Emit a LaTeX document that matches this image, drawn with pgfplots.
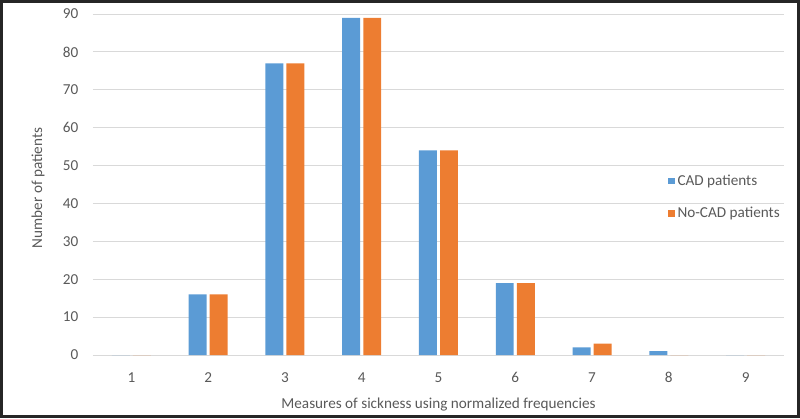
\documentclass[border=0pt]{standalone}
\usepackage{pgfplots}
\pgfplotsset{compat=1.18}
\usepackage{fontspec}
\setmainfont{Carlito}
\definecolor{cadblue}{HTML}{5B9BD5}
\definecolor{cadorange}{HTML}{ED7D31}
\definecolor{txtgray}{HTML}{595959}
\definecolor{gridgray}{HTML}{D9D9D9}
\newcommand{\chartfont}{\fontsize{11.4}{13}\selectfont}

\begin{document}
\begin{tikzpicture}
\begin{axis}[
  at={(0pt,0pt)}, anchor=south west,
  scale only axis,
  width=518.25pt, height=255.75pt,
  xmin=0.5, xmax=9.5, ymin=0, ymax=90,
  ybar, bar width=0.234,
  xtick={1,...,9}, ytick={0,10,...,90},
  ymajorgrids, grid style={gridgray, line width=0.75pt},
  axis line style={draw=none},
  major tick length=0pt,
  tick label style={font=\chartfont, text=txtgray},
  /pgf/number format/assume math mode=true,
  xticklabel style={yshift=-9.5pt},
  yticklabel style={xshift=-7.5pt},
  xlabel={Measures of sickness using normalized frequencies},
  ylabel={Number of patients},
  label style={font=\chartfont, text=txtgray},
  xlabel style={at={([yshift=-37pt]axis description cs:0.5,0)}, anchor=center},
  ylabel style={at={([xshift=-41.25pt]axis description cs:0,0.49)}, anchor=center, rotate=0},
  legend style={at={(rel axis cs:0.832,0.537)}, anchor=north west, draw=none, fill=none,
    font=\chartfont, text=txtgray, row sep=11pt, inner sep=0pt},
  legend cell align=left,
  legend image code/.code={\fill[#1] (0pt,-2.5pt) rectangle (5pt,2.5pt);},
]
\addplot[fill=cadblue, draw=none, bar shift=-0.137] coordinates {
  (1,0) (2,16) (3,77) (4,89) (5,54) (6,19) (7,2) (8,1) (9,0)
};
\addplot[fill=cadorange, draw=none, bar shift=0.137] coordinates {
  (1,0) (2,16) (3,77) (4,89) (5,54) (6,19) (7,3) (8,0) (9,0)
};
\legend{CAD patients, No-CAD patients}
\end{axis}
\draw[line width=2.25pt, black!85] (-68.625pt,-46.125pt) rectangle (529.125pt,265.125pt);
\end{tikzpicture}
\end{document}
